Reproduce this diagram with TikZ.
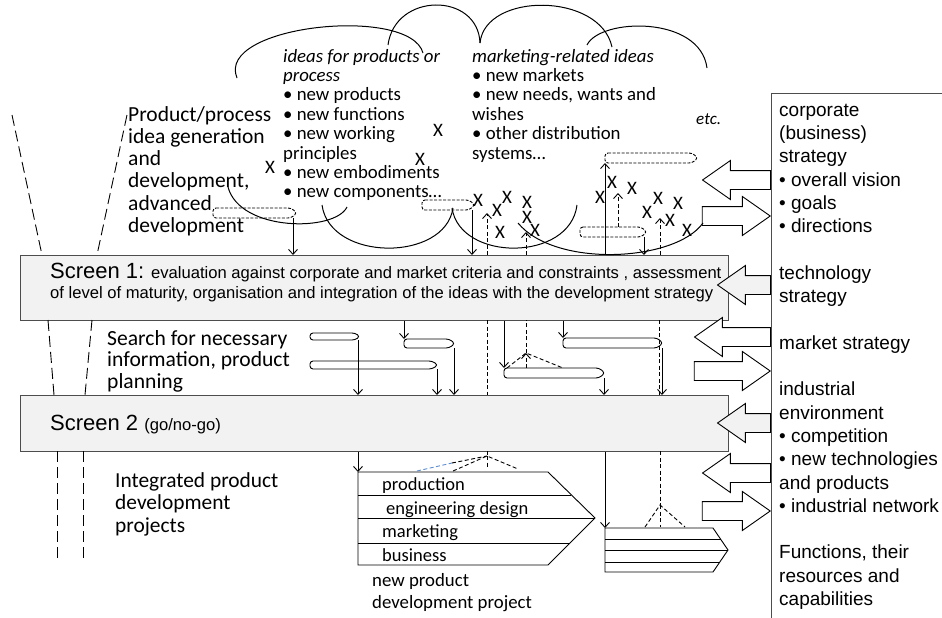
\documentclass[tikz,border=0pt]{standalone}
\usepackage{fontspec}
\setmainfont{Carlito}
\newfontfamily\arialfont{Liberation Sans}
\usetikzlibrary{arrows.meta,shapes.arrows}
\definecolor{screenfill}{HTML}{F2F2F2}
\definecolor{screenline}{HTML}{4D4D4D}
\definecolor{fanblue}{HTML}{5B8BD0}
\tikzset{
  lbl/.style={inner sep=0pt, anchor=north west, align=left},
  screenbox/.style={draw=screenline, fill=screenfill, line width=1.3pt, inner sep=0pt},
  flow/.style={line width=0.9pt, -{Straight Barb[length=5pt,width=9pt]}},
  ideaflow/.style={line width=0.9pt, dash pattern=on 4pt off 2.5pt, -{Straight Barb[length=5pt,width=9pt]}},
  idealine/.style={line width=0.9pt, dash pattern=on 4pt off 2.5pt},
  ideatab/.style={line width=0.9pt, dash pattern=on 3pt off 1.5pt, rounded corners=3pt},
  tabbox/.style={line width=0.9pt, fill=white, rounded corners=3pt},
  funnel/.style={line width=0.9pt, dash pattern=on 11pt off 5pt},
  cloudline/.style={line width=1pt},
  proj/.style={line width=0.9pt},
  bigarrow/.style={single arrow, draw=black, line width=0.9pt, fill=white, inner sep=0pt,
    text width=0pt, text height=9pt, text depth=9pt,
    single arrow head extend=10pt, single arrow tip angle=70},
  cross/.style={inner sep=0pt, font=\fontsize{19}{19}\selectfont},
}
\begin{document}
\begin{tikzpicture}[x=1pt, y=-1pt, every node/.style={inner sep=0pt}]
\useasboundingbox (0,0) rectangle (942,618);

% screens
\node (scr1) [screenbox, anchor=north west, minimum width=708pt, minimum height=65pt] at (20,255) {};
\node (scr2) [screenbox, anchor=north west, minimum width=708pt, minimum height=56pt] at (20,395) {};
\node (scr1head) [anchor=base west, font=\arialfont\fontsize{22}{22}\selectfont] at (50,278) {Screen 1:};
\node (scr1text) [anchor=base west, font=\arialfont\fontsize{16.6}{20}\selectfont] at (151,278) {evaluation against corporate and market criteria and constraints , assessment};
\node (scr1text2) [anchor=base west, font=\arialfont\fontsize{16.6}{20}\selectfont] at (50,298) {of level of maturity, organisation and integration of the ideas with the development strategy};
\node (scr2head) [anchor=base west, font=\arialfont\fontsize{22}{22}\selectfont] at (50,430) {Screen 2 {\fontsize{16.6}{16.6}\selectfont(go/no-go)}};

% hollow arrows between strategies and screens
\node (corpIn) [bigarrow, minimum height=68pt, shape border rotate=180, anchor=tail] at (771,180) {};
\node (corpOut) [bigarrow, minimum height=68pt, anchor=tip] at (771,216) {};
\node (techIn) [bigarrow, minimum height=53pt, shape border rotate=180, anchor=tail, fill=screenfill] at (771,285) {};
\node (marketIn) [bigarrow, minimum height=76pt, shape border rotate=180, anchor=tail] at (771,337) {};
\node (marketOut) [bigarrow, minimum height=76pt, anchor=tip] at (771,371) {};
\node (envIn) [bigarrow, minimum height=53pt, shape border rotate=180, anchor=tail, fill=screenfill] at (771,423) {};
\node (envIn2) [bigarrow, minimum height=68pt, shape border rotate=180, anchor=tail] at (771,473) {};
\node (envOut) [bigarrow, minimum height=68pt, anchor=tip] at (771,511) {};

% strategy column
\node (strat) [draw=screenline, line width=1.3pt, anchor=north west, minimum width=200pt, minimum height=560pt] at (771,93) {};
\node (strattext) [lbl, font=\arialfont\fontsize{19}{23.3}\selectfont] at (779,99.7) {\strut corporate\\(business)\\strategy\\• overall vision\\• goals\\• directions\\[23.3pt]technology\\strategy\\[23.3pt]market strategy\\[23.3pt]industrial\\environment\\• competition\\• new technologies\\and products\\• industrial network\\[23.3pt]Functions, their\\resources and\\capabilities};

% left column
\draw[funnel] (12,115) -- (42,255);
\draw[funnel] (127,115) -- (97,255);
\draw[funnel] (48,320) -- (54,395);
\draw[funnel] (92,320) -- (85,395);
\draw[funnel] (57,451) -- (57,562);
\draw[funnel] (83,451) -- (83,562);
\node (ideagen) [lbl, font=\fontsize{21.5}{22.2}\selectfont] at (128,105.5) {\strut Product/process\\idea generation\\and\\development,\\advanced\\development};
\node (search) [lbl, font=\fontsize{21.6}{21.5}\selectfont] at (107,330) {\strut Search for necessary\\information, product\\planning};
\node (projects) [lbl, font=\fontsize{21.4}{22.5}\selectfont] at (115,471.3) {\strut Integrated product\\development\\projects};

% idea cloud
\draw[cloudline] (237,78) .. controls (215,25) and (410,5) .. (423,53);
\draw[cloudline] (388,45) .. controls (395,-8) and (478,-8) .. (480,43);
\draw[cloudline] (480,43) .. controls (485,-8) and (600,-8) .. (612,47);
\draw[cloudline] (587,45) .. controls (600,18) and (700,15) .. (707,68);
\draw[cloudline] (228,187) .. controls (240,232) and (335,232) .. (347,207);
\draw[cloudline] (322,205) .. controls (330,262) and (445,262) .. (453,208);
\draw[cloudline] (452,208) .. controls (460,262) and (570,262) .. (577,205);
\draw[cloudline] (518,223) .. controls (555,268) and (675,262) .. (703,223);
\node (ideasprod) [lbl, font=\fontsize{18.8}{19.4}\selectfont] at (283,48.4) {\strut\textit{ideas for products or}\\\textit{process}\\• new products\\• new functions\\• new working\\principles\\• new embodiments\\• new components…};
\node (ideasmkt) [lbl, font=\fontsize{18.8}{19.4}\selectfont] at (472,48.4) {\strut\textit{marketing-related ideas}\\• new markets\\• new needs, wants and\\wishes\\• other distribution\\systems…};
\node (etc) [anchor=base west, font=\fontsize{17}{17}\selectfont\itshape] at (696,124) {etc.};
\foreach \x/\y [count=\i] in {270/167, 438/130, 420/159, 478/200, 497/210, 507/197, 527/202, 527/217, 500/232, 535/230, 600/197, 612/182, 632/188, 647/212, 658/198, 678/203, 670/220, 687/230}
  \node (x\i) [cross] at (\x,\y) {X};

% ideas passed to screen 1
\draw[ideatab] (213,208) -- (291,208) -- (297,213) -- (291,218) -- (213,218) -- cycle;
\draw[ideatab] (422,200) -- (469,200) -- (475,205) -- (469,210) -- (422,210) -- cycle;
\draw[ideatab] (605,153) -- (692,153) -- (698,158) -- (692,163) -- (605,163) -- cycle;
\draw[ideatab] (580,227) -- (641,227) -- (647,232) -- (641,237) -- (580,237) -- cycle;
\coordinate (d1) at (293,218);
\coordinate (d2) at (472,210);
\coordinate (d3) at (605,163);
\coordinate (d4) at (644,237);
\coordinate (d4up) at (618,227);
\draw[flow] (d1) -- (d1 |- scr1.north);
\draw[flow] (d2) -- (d2 |- scr1.north);
\draw[flow] (d3 |- scr1.north) -- (d3);
\draw[flow] (d4) -- (d4 |- scr1.north);
\draw[ideaflow] (d4up) -- (618,193);
\coordinate (u1) at (487,213);
\coordinate (u2) at (526,232);
\coordinate (u3) at (660,218);
\draw[ideaflow] (u1 |- scr1.north) -- (u1);
\draw[ideaflow] (u2 |- scr1.north) -- (u2);
\draw[ideaflow] (u3 |- scr1.north) -- (u3);

% between screen 1 and screen 2
\draw[tabbox] (310,333) -- (355,333) -- (360,336.5) -- (355,340) -- (310,340) -- cycle;
\draw[tabbox] (310,361) -- (432,361) -- (438,365) -- (432,369) -- (310,369) -- cycle;
\draw[tabbox] (404,339) -- (449,339) -- (455,343.5) -- (449,348) -- (404,348) -- cycle;
\draw[tabbox] (504,368) -- (599,368) -- (605,373) -- (599,378) -- (504,378) -- cycle;
\draw[tabbox] (563,338) -- (657,338) -- (663,343) -- (657,348) -- (563,348) -- cycle;
\coordinate (t1) at (358,340);
\coordinate (t2) at (437,369);
\coordinate (t3in) at (404,339);
\coordinate (t3) at (454,348);
\coordinate (t4in) at (504,368);
\coordinate (t4) at (604,378);
\coordinate (t5in) at (563,338);
\coordinate (t5) at (662,348);
\draw[flow] (t1) -- (t1 |- scr2.north);
\draw[flow] (t2) -- (t2 |- scr2.north);
\draw[flow] (t3in |- scr1.south) -- (t3in);
\draw[flow] (t3) -- (t3 |- scr2.north);
\draw[flow] (t4in |- scr1.south) -- (t4in);
\draw[flow] (t4) -- (t4 |- scr2.north);
\draw[flow] (t5in |- scr1.south) -- (t5in);
\draw[flow] (t5) -- (t5 |- scr2.north);
\draw[idealine] (487,320) -- (487,395);
\draw[idealine] (659,320) -- (659,395);
\coordinate (fan1) at (526,353);
\draw[idealine] (fan1) -- (526,320);
\draw[ideaflow] (526,368) -- (fan1);
\draw[idealine] (507,368) -- (fan1) -- (563,368);

% projects below screen 2
\draw[proj] (358,472) -- (548,472) -- (595,518) -- (548,565) -- (358,565) -- cycle;
\draw[proj] (358,495) -- (571,495);
\draw[proj] (358,518) -- (595,518);
\draw[proj] (358,543) -- (570,543);
\node (production) [anchor=base west, font=\fontsize{18.5}{18.5}\selectfont] at (382,490) {production};
\node (engdesign) [anchor=base west, font=\fontsize{18.5}{18.5}\selectfont] at (386,514) {engineering design};
\node (marketing) [anchor=base west, font=\fontsize{18.5}{18.5}\selectfont] at (382,537) {marketing};
\node (business) [anchor=base west, font=\fontsize{18.5}{18.5}\selectfont] at (382,561) {business};
\node (newproj) [lbl, font=\fontsize{18.8}{22.5}\selectfont] at (372,570.3) {\strut new product\\development project};
\draw[proj] (605,528) -- (713,528) -- (728,550) -- (713,572) -- (605,572) -- cycle;
\draw[proj] (605,539) -- (720.5,539);
\draw[proj] (605,550) -- (728,550);
\draw[proj] (605,562) -- (719.8,562);
\coordinate (p1) at (358,472);
\coordinate (p2) at (605,528);
\draw[flow] (p1 |- scr2.south) -- (p1);
\draw[flow] (p2 |- scr2.south) -- (p2);
\coordinate (fan2) at (487,456);
\draw[idealine] (487,451) -- (fan2);
\draw[idealine, draw=fanblue] (417,471) -- (452,463);
\draw[idealine] (452,463) -- (fan2);
\draw[idealine] (453,471) -- (fan2) -- (518,469);
\draw[idealine] (fan2) -- (487,467);
\coordinate (fan3) at (660,505);
\draw[idealine] (660,451) -- (fan3);
\draw[idealine] (645,527) -- (fan3) -- (685,527);
\draw[idealine] (fan3) -- (660,527);
\end{tikzpicture}
\end{document}
